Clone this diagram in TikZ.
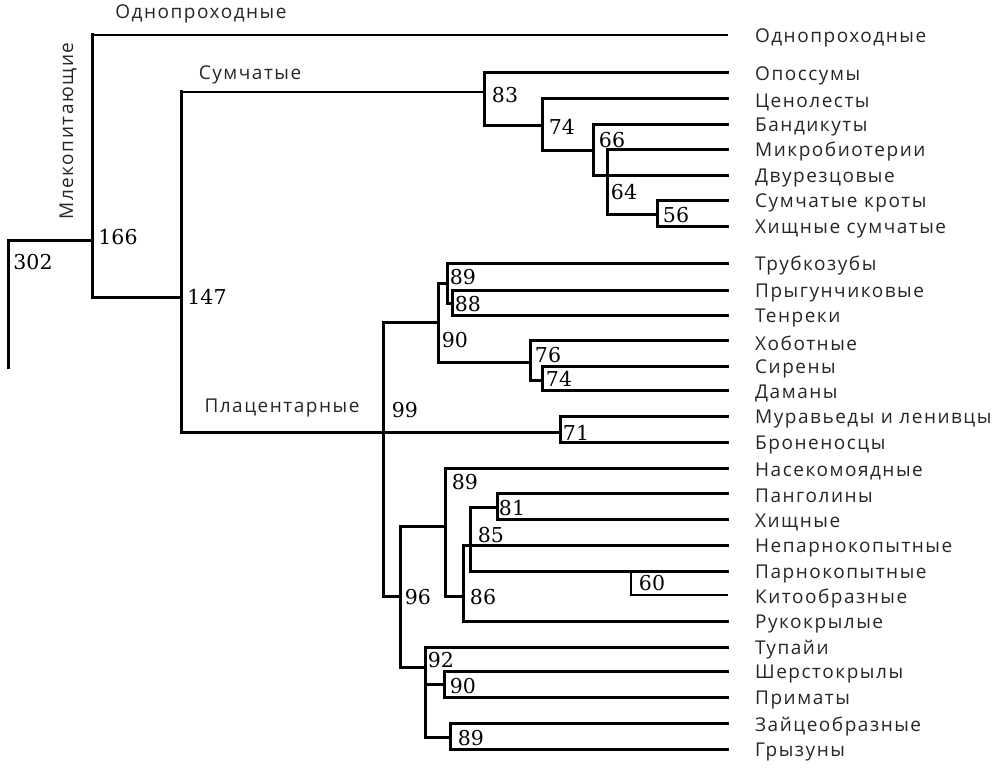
\documentclass[tikz,border=0pt]{standalone}
\usepackage{fontspec}
\setmainfont{Open Sans}[LetterSpace=8]
\newfontfamily\numfont{DejaVu Serif}
\begin{document}
\begin{tikzpicture}[x=1pt,y=-1pt,
  br/.style={line width=3.0pt,line cap=rect},
  thinbr/.style={line width=2.0pt,line cap=rect},
  leaf/.style={anchor=west,inner sep=0pt,text=black!85,font=\fontsize{19}{19}\selectfont},
  grp/.style={inner sep=0pt,text=black!85,font=\fontsize{19}{19}\selectfont},
  num/.style={inner sep=0pt,font=\numfont\fontsize{20.5}{20.5}\selectfont}]
\useasboundingbox (0,0) rectangle (1002,768);
\def\lx{727}
% leaf coordinates
\foreach \n/\y in {0/35,1/73,2/99,3/124,4/149,5/175,6/200,7/226,8/263,9/290,10/315,11/340,12/366,13/390,14/416,15/442,16/468,17/493,18/519,19/545,20/571,21/595,22/621,23/647,24/671,25/697,26/723,27/749}
  \coordinate (L\n) at (\lx,\y);
% leaf labels
\foreach \n/\t in {0/Однопроходные,1/Опоссумы,2/Ценолесты,3/Бандикуты,4/Микробиотерии,5/Двурезцовые,6/Сумчатые кроты,7/Хищные сумчатые,8/Трубкозубы,9/Прыгунчиковые,10/Тенреки,11/Хоботные,12/Сирены,13/Даманы,14/Муравьеды и ленивцы,15/Броненосцы,16/Насекомоядные,17/Панголины,18/Хищные,19/Непарнокопытные,20/Парнокопытные,21/Китообразные,22/Рукокрылые,23/Тупайи,24/Шерстокрылы,25/Приматы,26/Зайцеобразные,27/Грызуны}
  \node[leaf] (T\n) at ([xshift=28pt,yshift=-3pt]L\n) {\t};
% internal node coordinates: top, bottom
\coordinate (rT) at (8,240);   \coordinate (rB) at (8,367);
\coordinate (aT) at (92,35);   \coordinate (aB) at (92,297);  \coordinate (aM) at (92,240);
\coordinate (bT) at (181,92);  \coordinate (bB) at (181,432); \coordinate (bM) at (181,297);
% marsupials
\coordinate (m83T) at (484,73);  \coordinate (m83B) at (484,125); \coordinate (m83M) at (484,92);
\coordinate (m74T) at (542,99);  \coordinate (m74B) at (542,150); \coordinate (m74M) at (542,125);
\coordinate (m66T) at (593,124); \coordinate (m66B) at (593,175); \coordinate (m66M) at (593,150);
\coordinate (m64T) at (607,149); \coordinate (m64B) at (607,214);
\coordinate (m56T) at (657,200); \coordinate (m56B) at (657,226); \coordinate (m56M) at (657,214);
% placentals
\coordinate (p99T) at (383,322); \coordinate (p99B) at (383,596);
\coordinate (p90T) at (438,283); \coordinate (p90B) at (438,362); \coordinate (p90M) at (438,322);
\coordinate (p89T) at (447,263); \coordinate (p89B) at (447,303); \coordinate (p89M) at (447,283);
\coordinate (p88T) at (452,290); \coordinate (p88B) at (452,315); \coordinate (p88M) at (452,303);
\coordinate (p76T) at (530,340); \coordinate (p76B) at (530,380); \coordinate (p76M) at (530,362);
\coordinate (p74T) at (542,366); \coordinate (p74B) at (542,390); \coordinate (p74M) at (542,380);
\coordinate (p71T) at (560,416); \coordinate (p71B) at (560,442); \coordinate (p71M) at (560,432);
\coordinate (p96T) at (400,526); \coordinate (p96B) at (400,667); \coordinate (p96M) at (400,596);
\coordinate (q89T) at (445,468); \coordinate (q89B) at (445,596); \coordinate (q89M) at (445,526);
\coordinate (p86T) at (463,545); \coordinate (p86B) at (463,621); \coordinate (p86M) at (463,596);
\coordinate (p85T) at (470,507); \coordinate (p85B) at (470,571); \coordinate (p85M) at (470,545);
\coordinate (p81T) at (497,493); \coordinate (p81B) at (497,519); \coordinate (p81M) at (497,507);
\coordinate (p60T) at (631,571); \coordinate (p60B) at (631,595);
\coordinate (p92T) at (425,647); \coordinate (p92B) at (425,737); \coordinate (p92M) at (425,667); \coordinate (p92C) at (425,684);
\coordinate (p90bT) at (444,671); \coordinate (p90bB) at (444,697); \coordinate (p90bM) at (444,684);
\coordinate (p89cT) at (450,723); \coordinate (p89cB) at (450,749); \coordinate (p89cM) at (450,737);
% root
\draw[br] (rB) -- (rT) -- (aM);
\draw[br] (aT) -- (aB) -- (bM);
\draw[thinbr] (aT) -- (L0);
\draw[br] (bT) -- (bB) -- (p71M);
\draw[thinbr] (bT) -- (m83M);
% marsupials
\draw[br] (L1) -- (m83T) -- (m83B) -- (m74M);
\draw[br] (L2) -- (m74T) -- (m74B) -- (m66M);
\draw[br] (L3) -- (m66T) -- (m66B) -- (L5);
\draw[br] (L4) -- (m64T) -- (m64B) -- (m56M);
\draw[br] (L6) -- (m56T) -- (m56B) -- (L7);
% afrotheria
\draw[br] (p99T) -- (p99B) -- (p96M);
\draw[br] (p99T) -- (p90M);
\draw[br] (p90T) -- (p90B) -- (p76M);
\draw[br] (p90T) -- (p89M);
\draw[br] (L8) -- (p89T) -- (p89B) -- (p88M);
\draw[br] (L9) -- (p88T) -- (p88B) -- (L10);
\draw[br] (L11) -- (p76T) -- (p76B) -- (p74M);
\draw[br] (L12) -- (p74T) -- (p74B) -- (L13);
\draw[br] (L14) -- (p71T) -- (p71B) -- (L15);
% boreoeutheria
\draw[br] (p96T) -- (p96B) -- (p92M);
\draw[br] (p96T) -- (q89M);
\draw[br] (L16) -- (q89T) -- (q89B) -- (p86M);
\draw[br] (L19) -- (p86T) -- (p86B) -- (L22);
\draw[br] (p81M) -- (p85T) -- (p85B) -- (L20);
\draw[br] (L17) -- (p81T) -- (p81B) -- (L18);
\draw[thinbr] (p60T) -- (p60B) -- (L21);
\draw[br] (L23) -- (p92T) -- (p92B) -- (p89cM);
\draw[br] (p92C) -- (p90bM);
\draw[br] (L24) -- (p90bT) -- (p90bB) -- (L25);
\draw[br] (L26) -- (p89cT) -- (p89cB) -- (L27);
% group labels
\node[grp] (gMono) at (201,14) {Однопроходные};
\node[grp] (gMars) at (250,75) {Сумчатые};
\node[grp] (gPlac) at (282,408) {Плацентарные};
\node[grp,rotate=90] (gMamm) at (68,131) {Млекопитающие};
% support numbers
\foreach \nm/\x/\y/\t in {n302/33/262/302,n166/118/237/166,n147/207/297/147,
  n83/505/95/83,n74a/562/127/74,n66/612/140/66,n64/624/192/64,n56/676/215/56,
  n89a/463/277/89,n88/468/304/88,n90a/455/340/90,n76/548/355/76,n74b/559/379/74,n99/405/410/99,n71/576/433/71,
  n89b/465/482/89,n81/512/508/81,n85/491/535/85,n86/483/597/86,n60/652/583/60,n96/418/597/96,
  n92/441/660/92,n90b/463/686/90,n89c/471/738/89}
  \node[num] (\nm) at (\x,\y) {\t};
\end{tikzpicture}
\end{document}
